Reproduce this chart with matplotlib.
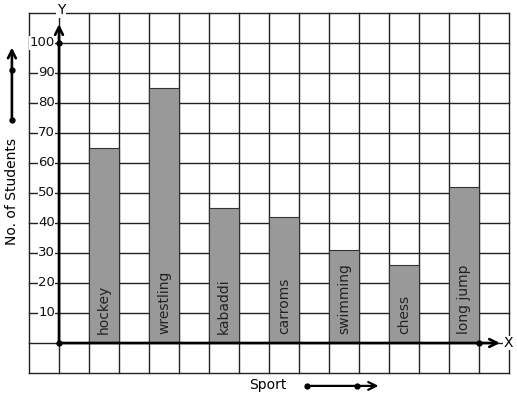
import matplotlib
matplotlib.use("Agg")
import matplotlib.pyplot as plt
import numpy as np

sports = ["hockey", "wrestling", "kabaddi", "carroms", "swimming", "chess", "long jump"]
students = [65, 85, 45, 42, 31, 26, 52]
bar_left = [1, 3, 5, 7, 9, 11, 13]
ytick_vals = [10, 20, 30, 40, 50, 60, 70, 80, 90, 100]

fig = plt.figure(figsize=(5.17, 3.99), dpi=100)
W, H = 517.0, 399.0
# grid box in pixels: x 29..509, y 13..373
ax = fig.add_axes([29 / W, (H - 373) / H, 480 / W, 360 / H])
ax.set_xlim(-1, 15)
ax.set_ylim(-10, 110)
for s in ax.spines.values():
    s.set_visible(False)
ax.set_xticks([])
ax.set_yticks([])

# square grid
grid_kw = dict(color="#222222", lw=1.0, zorder=1, clip_on=False)
for gx in range(-1, 16):
    ax.plot([gx, gx], [-10, 110], **grid_kw)
for gy in range(-10, 111, 10):
    ax.plot([-1, 15], [gy, gy], **grid_kw)

# bars
ax.bar(bar_left, students, width=1, align="edge", color="#999999",
       edgecolor="#333333", linewidth=0.8, zorder=2)
for x, name in zip(bar_left, sports):
    ax.text(x + 0.5, 3, name, rotation=90, ha="center", va="bottom",
            fontsize=10, color="#222222", zorder=4)

# axes with arrows
ax.annotate("", xy=(14.7, 0), xytext=(0, 0),
            arrowprops=dict(arrowstyle="->", lw=1.9, color="black",
                            mutation_scale=14, shrinkA=0, shrinkB=0),
            zorder=5, annotation_clip=False)
ax.annotate("", xy=(0, 106.3), xytext=(0, 0),
            arrowprops=dict(arrowstyle="->", lw=1.9, color="black",
                            mutation_scale=14, shrinkA=0, shrinkB=0),
            zorder=5, annotation_clip=False)
ax.plot([0, 0, 14], [0, 100, 0], "o", color="black", ms=3.5, zorder=6, clip_on=False)

for v in ytick_vals:
    ax.text(-0.13, v, str(v), ha="right", va="center", fontsize=9.5, color="#111111",
            zorder=4, bbox=dict(facecolor="white", edgecolor="none", pad=0.3))

ax.text(0.07, 111, "Y", ha="center", va="center", fontsize=10, zorder=4,
        bbox=dict(facecolor="white", edgecolor="none", pad=0.5), clip_on=False)
ax.text(14.97, 0, "X", ha="center", va="center", fontsize=10, zorder=4,
        bbox=dict(facecolor="white", edgecolor="none", pad=0.3), clip_on=False)

# outside labels and arrows
ax.text(-1.57, 50.5, "No. of Students", rotation=90, ha="center", va="center",
        fontsize=10, clip_on=False)
ax.annotate("", xy=(-1.57, 98.5), xytext=(-1.57, 74.3),
            arrowprops=dict(arrowstyle="->", lw=1.9, color="black",
                            mutation_scale=14, shrinkA=0, shrinkB=0),
            annotation_clip=False)
ax.plot([-1.57, -1.57], [74.3, 91], "o", color="black", ms=3.5, clip_on=False)

ax.text(6.97, -14, "Sport", ha="center", va="center", fontsize=10, clip_on=False)
ax.annotate("", xy=(10.65, -14.3), xytext=(8.27, -14.3),
            arrowprops=dict(arrowstyle="->", lw=1.6, color="black",
                            mutation_scale=14, shrinkA=0, shrinkB=0),
            annotation_clip=False)
ax.plot([8.27, 9.93], [-14.3, -14.3], "o", color="black", ms=3.5, clip_on=False)

fig.savefig("out.png", dpi=100, facecolor="white")
